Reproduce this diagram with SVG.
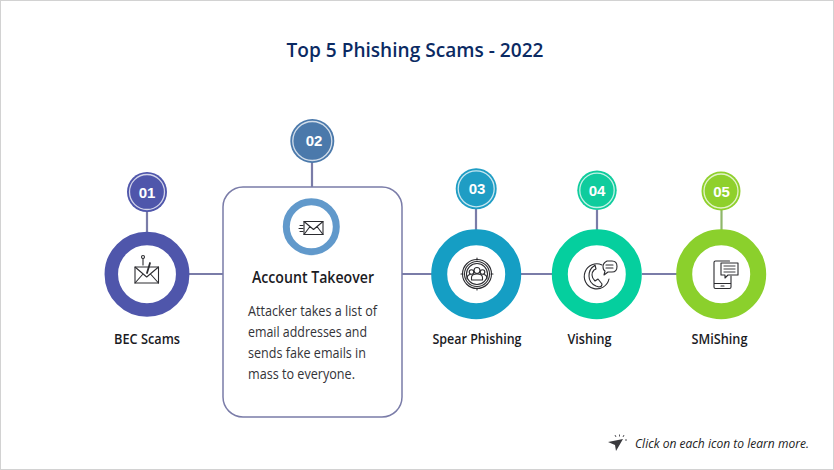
<svg xmlns="http://www.w3.org/2000/svg" width="834" height="470" viewBox="0 0 834 470">
<style>
text{font-family:"Open Sans","Noto Sans","Liberation Sans",sans-serif}
.line{stroke:#7a7ca8;stroke-width:2.2;fill:none}
.num{font-size:15px;font-weight:700;fill:#fff;text-anchor:middle;font-family:"Liberation Sans",Arial,sans-serif}
.label{font-size:14px;font-weight:600;fill:#1b1b1f;text-anchor:middle}
.body{font-size:14px;fill:#333338}
.ic{fill:none;stroke:#2c2c30;stroke-width:1.100;stroke-linejoin:round;stroke-linecap:round}
.halo{fill:none;stroke:#fff;stroke-width:1.300;opacity:.75}
</style>
<rect x="0.500" y="0.500" width="833" height="469" fill="#fff" stroke="#d2d2d2"/>
<text x="415" y="57" font-size="20.500" font-weight="600" fill="#0b2a63" text-anchor="middle" textLength="257" lengthAdjust="spacingAndGlyphs">Top 5 Phishing Scams - 2022</text>
<g id="connectors">
<path class="line" d="M189 274H223M402 274H432M521 274H552M642 274H677"/>
<path class="line" d="M147 211V232M312 162V187M476 209V230M597 210V230"/>
<path d="M721.500 210V230" fill="none" stroke="#8fb76a" stroke-width="2.200"/>
</g>
<g id="node-01">
<circle cx="147" cy="192" r="20" fill="#4f56ab"/><circle class="halo" cx="147" cy="192" r="17.500"/>
<text class="num" x="147" y="197.500">01</text>
<circle cx="147" cy="274.200" r="35.700" fill="#fff" stroke="#4f56ab" stroke-width="13.500"/>
<g class="ic"><rect x="135" y="267" width="23.500" height="16"/><path d="M135 267L146.700 277L158.500 267M135 283L143 274M158.500 283L150.500 274M143 265V258.500"/><circle cx="143" cy="257" r="1.500"/><path d="M150 263L147 273" stroke-width="1.800"/></g>
<text class="label" x="147" y="344" textLength="66" lengthAdjust="spacingAndGlyphs">BEC Scams</text>
</g>
<g id="node-02">
<circle cx="312.300" cy="141" r="22" fill="#4b79ab"/><circle class="halo" cx="312.300" cy="141" r="19.500"/>
<text class="num" x="314" y="146">02</text>
<rect x="223" y="187" width="179" height="230" rx="20" fill="#fff" stroke="#7a7ca8" stroke-width="1.500"/>
<circle cx="311.300" cy="226.700" r="25" fill="#fff" stroke="#6199cb" stroke-width="7"/>
<g class="ic"><rect x="304" y="221.500" width="19" height="13"/><path d="M304 221.500L313.500 229.500L323 221.500M304 234.500L310 226.500M323 234.500L317 226.500M300 225.500H303M299 228.500H303M300 231.500H303"/></g>
<text x="313" y="283" font-size="16.500" font-weight="600" fill="#1b1b1f" text-anchor="middle" textLength="122" lengthAdjust="spacingAndGlyphs">Account Takeover</text>
<text class="body" x="248" y="315.500" textLength="129" lengthAdjust="spacingAndGlyphs">Attacker takes a list of</text>
<text class="body" x="248" y="336.500" textLength="119" lengthAdjust="spacingAndGlyphs">email addresses and</text>
<text class="body" x="248" y="357.500" textLength="118" lengthAdjust="spacingAndGlyphs">sends fake emails in</text>
<text class="body" x="248" y="378.500" textLength="107" lengthAdjust="spacingAndGlyphs">mass to everyone.</text>
</g>
<g id="node-03">
<circle cx="476.200" cy="188.800" r="20.500" fill="#1f9dc4"/><circle class="halo" cx="476.200" cy="188.800" r="18"/>
<text class="num" x="477" y="194">03</text>
<circle cx="476.200" cy="274.200" r="37" fill="#fff" stroke="#159ec4" stroke-width="16"/>
<g class="ic"><circle cx="477" cy="274" r="14.500"/><circle cx="477" cy="274" r="12.500"/><circle cx="477" cy="274" r="10.500"/><circle cx="477" cy="270.500" r="3"/><circle cx="471.500" cy="272" r="2.300"/><circle cx="482.500" cy="272" r="2.300"/><path d="M471.500 280v-2.500q0-3.500 5.500-3.500t5.500 3.500v2.500zM467 279q0-4 3-4.500M487 279q0-4-3-4.500M477 258v2M477 288v2M461 274h2M491 274h2"/></g>
<text class="label" x="477" y="344" textLength="89" lengthAdjust="spacingAndGlyphs">Spear Phishing</text>
</g>
<g id="node-04">
<circle cx="597" cy="190.300" r="19.700" fill="#0fcc9d"/><circle class="halo" cx="597" cy="190.300" r="17.200"/>
<text class="num" x="597" y="195.500">04</text>
<circle cx="596.800" cy="274.200" r="37" fill="#fff" stroke="#05cf9e" stroke-width="16"/>
<g class="ic"><path d="M602 265a12.500 12.500 0 1 0 7 14"/><path d="M594 266q-5 3-5 10t7 10l3 1q3 0 3-3l-4-5-3 2q-3-3-3-6t2-5l2-1-1-4z"/><path d="M607 261h5q5 0 5 5.500t-5 5.500h-4l-4 3 1-4q-2-1-2-4.500t4-5.500zM606 265h7M606 268h7"/></g>
<text class="label" x="589.500" y="344" textLength="44" lengthAdjust="spacingAndGlyphs">Vishing</text>
</g>
<g id="node-05">
<circle cx="721" cy="191" r="19.500" fill="#8fd02c"/><circle class="halo" cx="721" cy="191" r="17"/>
<text class="num" x="721.500" y="196.500">05</text>
<circle cx="721.200" cy="274.200" r="37" fill="#fff" stroke="#8bd02c" stroke-width="16"/>
<g class="ic"><path d="M731 276v11q0 1.500-1.500 1.500h-14q-1.500 0-1.500-1.500v-24.500q0-1.500 1.500-1.500h14M714 283.500h17M721 286h3"/><path d="M721 263h17v12h-10l-3 3v-3h-4z"/><path d="M724 266h11M724 269h11M724 272h11" stroke-width="1.300" opacity=".6"/></g>
<text class="label" x="719.500" y="344" textLength="56" lengthAdjust="spacingAndGlyphs">SMiShing</text>
</g>
<g id="hint">
<path d="M608 442L623 439L616 451L615 445z" fill="#3a3a3e"/>
<path d="M616 437l-1-2M619.500 436.500v-2M623 437l1-2M625 440h2" stroke="#55555a" stroke-width="1" fill="none"/>
<text x="635" y="447.500" font-size="12" font-style="italic" fill="#222" textLength="174" lengthAdjust="spacingAndGlyphs">Click on each icon to learn more.</text>
</g>
</svg>
